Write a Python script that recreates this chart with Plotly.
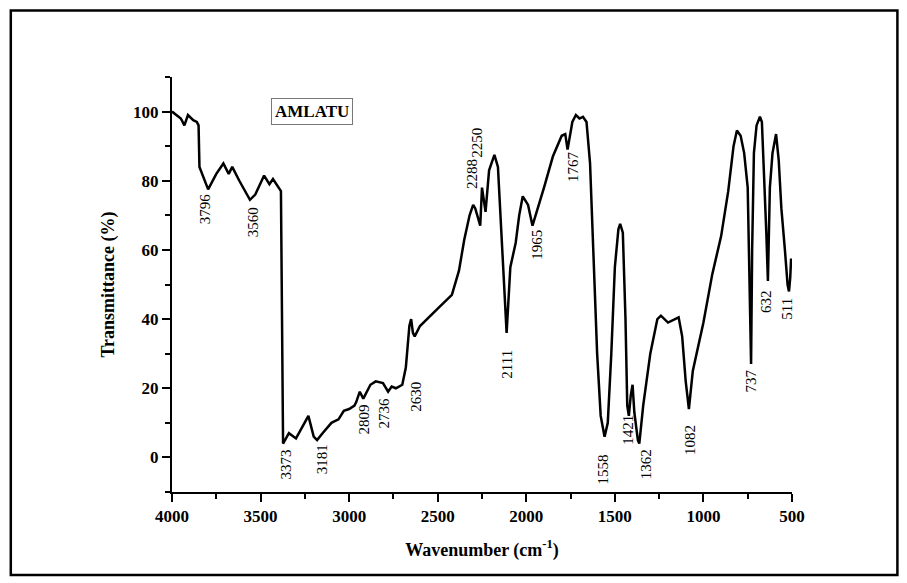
import plotly.graph_objects as go

# FTIR spectrum
wavenumber = [4000, 3950, 3930, 3910, 3880, 3860, 3850, 3845, 3796, 3750, 3710, 3680, 3660, 3620,
              3560, 3530, 3480, 3450, 3430, 3400, 3385, 3373, 3340, 3300, 3260, 3230, 3200, 3181,
              3150, 3100, 3060, 3030, 3000, 2970, 2960, 2940, 2920, 2880, 2850, 2809, 2780, 2760,
              2736, 2700, 2680, 2660, 2650, 2640, 2630, 2600, 2500, 2420, 2380, 2350, 2320, 2300,
              2288, 2260, 2250, 2230, 2210, 2180, 2160, 2140, 2120, 2111, 2090, 2060, 2040, 2020,
              1990, 1965, 1900, 1850, 1800, 1780, 1767, 1740, 1720, 1700, 1680, 1660, 1640, 1620,
              1600, 1580, 1558, 1540, 1520, 1500, 1480, 1470, 1455, 1440, 1430, 1421, 1410, 1400,
              1390, 1370, 1362, 1340, 1300, 1260, 1240, 1200, 1160, 1140, 1120, 1100, 1082, 1060,
              1000, 950, 900, 860, 830, 811, 790, 770, 750, 740, 731, 725, 715, 700, 681, 670,
              660, 645, 636, 625, 610, 590, 575, 560, 540, 525, 517, 510, 505]
transmittance = [100, 98, 96, 99, 97.5, 97, 96, 84, 77.5, 82, 85, 82, 84, 80,
                 74.5, 76, 81.5, 79, 80.5, 78, 77, 4, 7, 5.5, 9, 12, 6, 5,
                 7, 10, 11, 13.5, 14, 15, 16, 19, 17, 21, 22, 21.5, 19, 20.5,
                 20, 21, 26, 38, 40, 36, 35, 38, 43, 47, 54, 63, 70, 73,
                 72, 67, 78, 71, 83, 87.5, 84, 65, 45, 36, 55, 62, 70, 75.5,
                 73, 67, 78, 87, 93, 93.5, 89, 97, 99, 98, 98.5, 97, 85, 60,
                 30, 12, 6, 10, 30, 55, 66, 67.5, 65, 40, 15, 12, 18, 21,
                 13, 5, 4, 15, 30, 40, 41, 39, 40, 40.5, 35, 22, 14, 25,
                 39, 53, 64, 77, 90, 94.5, 93, 88, 78, 50, 27, 60, 88, 96, 98.5, 97,
                 85, 65, 51, 78, 88, 93.5, 86, 72, 60, 50, 48, 52, 57.5]

peak_labels = ["3796", "3560", "3373", "3181", "2809", "2736", "2630", "2288", "2250", "2111",
               "1965", "1767", "1558", "1421", "1362", "1082", "737", "632", "511"]
label_x = [3814, 3543, 3356, 3153, 2916, 2798, 2623, 2306, 2278, 2111,
           1940, 1736, 1567, 1426, 1324, 1076, 731, 646, 528]
label_y = [72, 68, -2, -0.5, 11, 13, 17.5, 82, 91, 27,
           61.5, 84, -3.5, 8, -2, 5, 22, 45, 43]

serif = "Liberation Serif"

fig = go.Figure()
fig.add_trace(go.Scatter(x=wavenumber, y=transmittance, mode="lines",
                         line=dict(color="black", width=2.5), showlegend=False))

for txt, lx, ly in zip(peak_labels, label_x, label_y):
    fig.add_annotation(x=lx, y=ly, text=txt, textangle=-90, showarrow=False,
                       font=dict(family=serif, size=15, color="black"))

fig.add_annotation(x=3210, y=100, text="<b>AMLATU</b>", showarrow=False,
                   font=dict(family=serif, size=17, color="black"),
                   bordercolor="#777", borderwidth=1, borderpad=3)

# frame round the whole picture
fig.add_shape(type="rect", xref="paper", yref="paper",
              x0=-0.26, x1=1.17, y0=-0.2, y1=1.16,
              line=dict(color="black", width=2.5))

tick_font = dict(family=serif, size=17, color="black", weight="bold")
axis_common = dict(showgrid=False, zeroline=False, showline=True, linecolor="black",
                   linewidth=2, ticks="outside", tickwidth=2, ticklen=8,
                   tickcolor="black", tickfont=tick_font)
fig.update_xaxes(range=[4000, 500], tickvals=[4000, 3500, 3000, 2500, 2000, 1500, 1000, 500],
                 minor=dict(dtick=250, ticks="outside", ticklen=5, tickwidth=2, tickcolor="black"),
                 title=dict(text="<b>Wavenumber (cm<sup>-1</sup>)</b>", standoff=18,
                            font=dict(family=serif, size=18, color="black")),
                 **axis_common)
fig.update_yaxes(range=[-10, 110], tickvals=[0, 20, 40, 60, 80, 100],
                 minor=dict(dtick=10, ticks="outside", ticklen=5, tickwidth=2, tickcolor="black"),
                 title=dict(text="<b>Transmittance (%)</b>", standoff=14,
                            font=dict(family=serif, size=18, color="black")),
                 **axis_common)
fig.update_layout(width=907, height=583, plot_bgcolor="white", paper_bgcolor="white",
                  margin=dict(l=164, r=123, t=69, b=99),
                  font=dict(family=serif))
fig.write_html("out.html")
